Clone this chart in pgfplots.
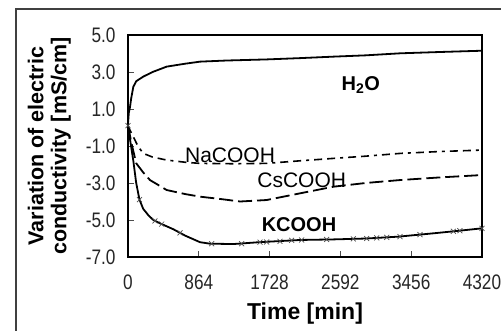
\documentclass[border=0pt]{standalone}
\usepackage{pgfplots}
\pgfplotsset{compat=1.18}
\usepackage{fontspec}
\setmainfont{Liberation Sans}
\newfontfamily\tickfont[FakeStretch=0.82]{Liberation Sans}
\begin{document}
\begin{tikzpicture}
\useasboundingbox (0,0) rectangle (501pt,331pt);
\fill[white] (0,0) rectangle (501pt,331pt);
\draw[line width=2.2pt, black!75] (16pt,-2pt) -- (16pt,322pt) -- (503pt,322pt);
\begin{axis}[
  at={(128pt,74pt)}, anchor=south west,
  width=354pt, height=222pt, scale only axis,
  xmin=0, xmax=4320, ymin=-7, ymax=5,
  xtick={0,864,1728,2592,3456,4320},
  xticklabels={0,864,1728,2592,3456,4320},
  ytick={-7,-5,-3,-1,1,3,5},
  yticklabels={-7.0,-5.0,-3.0,-1.0,1.0,3.0,5.0},
  tick align=inside, tick pos=left,
  major tick length=6pt,
  axis line style={line width=1.2pt, black},
  tick style={line width=0.8pt, black!70},
  ticklabel style={font=\tickfont\fontsize{21}{21}\selectfont, text=black!85},
  yticklabel style={xshift=-9pt},
  xticklabel style={yshift=-14pt},
  xlabel={Time [min]},
  xlabel style={at={(axis description cs:0.5,-0.255)}, anchor=center, font=\bfseries\fontsize{23}{23}\selectfont},
  ylabel={Variation of electric\\conductivity [mS/cm]},
  ylabel style={at={(axis description cs:-0.222,0.5)}, anchor=center, rotate=0, align=center, font=\bfseries\fontsize{21.5}{23}\selectfont},
  clip=false,
]
% H2O
\addplot[black, line width=1.8pt] coordinates {
(0,0.2) (10,0.8) (24,1.1) (40,1.6) (65,2.2) (100,2.5) (186,2.75) (300,3.0)
(472,3.29) (700,3.45) (880,3.56) (1200,3.62) (1693,3.68) (2100,3.75)
(2507,3.83) (2900,3.9) (3322,4.01) (3800,4.08) (4320,4.15)};
% NaCOOH
\addplot[black, line width=1.6pt, dash pattern=on 8pt off 5pt on 8pt off 5pt on 3pt off 5pt] coordinates {
(0,0.1) (30,-0.2) (65,-0.5) (120,-1.0) (186,-1.4) (300,-1.6) (472,-1.76)
(700,-1.88) (880,-1.94) (1300,-1.96) (1693,-1.94) (2100,-1.8) (2507,-1.67)
(2900,-1.55) (3322,-1.4) (3800,-1.3) (4320,-1.22)};
% CsCOOH
\addplot[black, line width=1.8pt, dash pattern=on 14pt off 5pt] coordinates {
(0,0.1) (40,-0.8) (100,-1.93) (180,-2.4) (268,-2.84) (472,-3.38) (700,-3.6)
(880,-3.74) (1100,-3.85) (1368,-4.0) (1693,-3.92) (2099,-3.56) (2507,-3.2)
(2900,-3.0) (3322,-2.84) (3800,-2.7) (4320,-2.57)};
% KCOOH
\addplot[black, line width=1.8pt] coordinates {
(0,0.1) (30,-0.8) (65,-1.8) (100,-3.0) (140,-3.9) (186,-4.4) (250,-4.75)
(309,-5.0) (400,-5.2) (553,-5.5) (700,-5.85) (879,-6.2) (1000,-6.28)
(1286,-6.3) (1600,-6.2) (2099,-6.08) (2500,-6.05) (2913,-6.0) (3300,-5.9)
(3727,-5.72) (4000,-5.6) (4320,-5.45)};
\addplot[only marks, mark=x, mark size=3.5pt, black!70, line width=0.7pt] coordinates {
(0,0.1) (140,-3.9) (329,-5.05) (411,-5.22) (635,-5.7) (1021,-6.28) (1387,-6.28)
(1611,-6.2) (1692,-6.19) (1855,-6.15) (1997,-6.1) (2119,-6.08) (2424,-6.05)
(2750,-6.02) (2913,-6.0) (3035,-5.97) (3157,-5.94) (3319,-5.9) (3563,-5.79)
(3970,-5.61) (4051,-5.58) (4320,-5.45)};
\node[font=\bfseries\fontsize{20}{20}\selectfont] at (axis cs:2840,2.3) {H\textsubscript{2}O};
\node[font=\fontsize{21}{21}\selectfont] at (axis cs:1245,-1.49) {NaCOOH};
\node[font=\fontsize{21}{21}\selectfont] at (axis cs:2120,-2.84) {CsCOOH};
\node[font=\bfseries\fontsize{20}{20}\selectfont] at (axis cs:2087,-5.27) {KCOOH};
\end{axis}
\end{tikzpicture}
\end{document}
